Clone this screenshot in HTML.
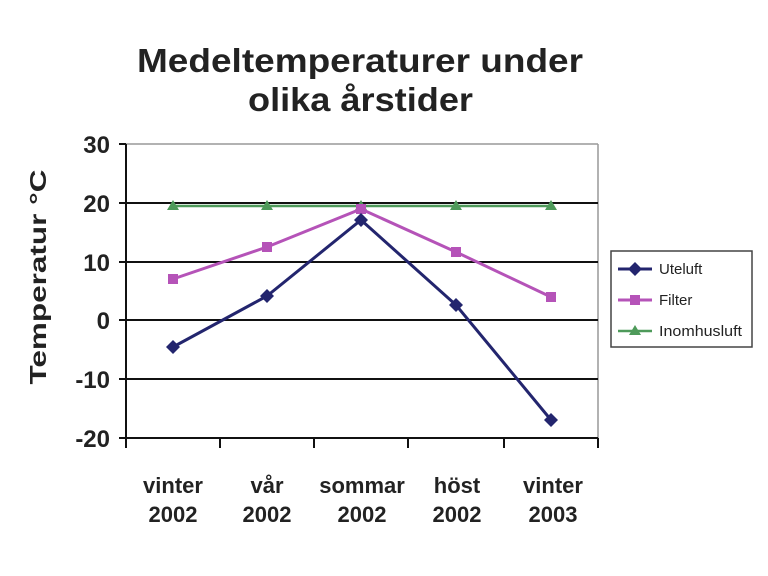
<!DOCTYPE html>
<html><head><meta charset="utf-8"><style>
body{margin:0;background:#fff;}
svg{display:block;font-family:"Liberation Sans",sans-serif;}
</style></head><body>
<svg width="768" height="576" viewBox="0 0 768 576">
<text x="137" y="72" font-size="33" font-weight="bold" fill="#222" textLength="446" lengthAdjust="spacingAndGlyphs">Medeltemperaturer under</text>
<text x="248" y="111" font-size="33" font-weight="bold" fill="#222" textLength="225" lengthAdjust="spacingAndGlyphs">olika årstider</text>
<text transform="translate(46,277) rotate(-90)" text-anchor="middle" font-size="23" font-weight="bold" fill="#222" textLength="215" lengthAdjust="spacingAndGlyphs">Temperatur °C</text>
<g font-size="24" font-weight="bold" fill="#222" text-anchor="end">
<text x="110" y="153">30</text><text x="110" y="212">20</text><text x="110" y="271">10</text>
<text x="110" y="329">0</text><text x="110" y="388">-10</text><text x="110" y="447">-20</text>
</g>
<line x1="126" y1="144" x2="598" y2="144" stroke="#999" stroke-width="1.5"/>
<line x1="598" y1="144" x2="598" y2="438" stroke="#999" stroke-width="1.5"/>
<g stroke="#111" stroke-width="2">
<line x1="119" y1="144" x2="126" y2="144"/>
<line x1="119" y1="203" x2="598" y2="203"/>
<line x1="119" y1="262" x2="598" y2="262"/>
<line x1="119" y1="320" x2="598" y2="320"/>
<line x1="119" y1="379" x2="598" y2="379"/>
<line x1="119" y1="438" x2="598" y2="438"/>
<line x1="126" y1="144" x2="126" y2="448"/>
<line x1="220" y1="438" x2="220" y2="448"/><line x1="314" y1="438" x2="314" y2="448"/>
<line x1="408" y1="438" x2="408" y2="448"/><line x1="504" y1="438" x2="504" y2="448"/>
<line x1="598" y1="438" x2="598" y2="448"/>
</g>
<polyline points="173,206 267,206 361,206 456,206 551,206" fill="none" stroke="#4e9a5a" stroke-width="2.5"/>
<g fill="#4e9a5a"><path d="M173,200 l6,10 h-12z"/><path d="M267,200 l6,10 h-12z"/><path d="M361,200 l6,10 h-12z"/><path d="M456,200 l6,10 h-12z"/><path d="M551,200 l6,10 h-12z"/></g>
<polyline points="173,279 267,247 361,209 456,252 551,297" fill="none" stroke="#b553b8" stroke-width="3"/>
<g fill="#b553b8"><rect x="168" y="274" width="10" height="10"/><rect x="262" y="242" width="10" height="10"/><rect x="356" y="204" width="10" height="10"/><rect x="451" y="247" width="10" height="10"/><rect x="546" y="292" width="10" height="10"/></g>
<polyline points="173,347 267,296 361,220 456,305 551,420" fill="none" stroke="#23256e" stroke-width="3"/>
<g fill="#23256e"><path d="M173,340 l7,7 -7,7 -7,-7z"/><path d="M267,289 l7,7 -7,7 -7,-7z"/><path d="M361,213 l7,7 -7,7 -7,-7z"/><path d="M456,298 l7,7 -7,7 -7,-7z"/><path d="M551,413 l7,7 -7,7 -7,-7z"/></g>
<g font-size="22" font-weight="bold" fill="#222" text-anchor="middle">
<text x="173" y="493">vinter</text><text x="173" y="522">2002</text>
<text x="267" y="493">vår</text><text x="267" y="522">2002</text>
<text x="362" y="493">sommar</text><text x="362" y="522">2002</text>
<text x="457" y="493">höst</text><text x="457" y="522">2002</text>
<text x="553" y="493">vinter</text><text x="553" y="522">2003</text>
</g>
<rect x="611" y="251" width="141" height="96" fill="#fff" stroke="#444" stroke-width="1.5"/>
<line x1="618" y1="269" x2="652" y2="269" stroke="#23256e" stroke-width="3"/><path d="M635,262 l7,7 -7,7 -7,-7z" fill="#23256e"/>
<line x1="618" y1="300" x2="652" y2="300" stroke="#b553b8" stroke-width="3"/><rect x="630" y="295" width="10" height="10" fill="#b553b8"/>
<line x1="618" y1="331" x2="652" y2="331" stroke="#4e9a5a" stroke-width="2.5"/><path d="M635,325 l6,10 h-12z" fill="#4e9a5a"/>
<g font-size="15" fill="#222"><text x="659" y="274">Uteluft</text><text x="659" y="305">Filter</text><text x="659" y="336" textLength="83" lengthAdjust="spacingAndGlyphs">Inomhusluft</text></g>
</svg>
</body></html>
